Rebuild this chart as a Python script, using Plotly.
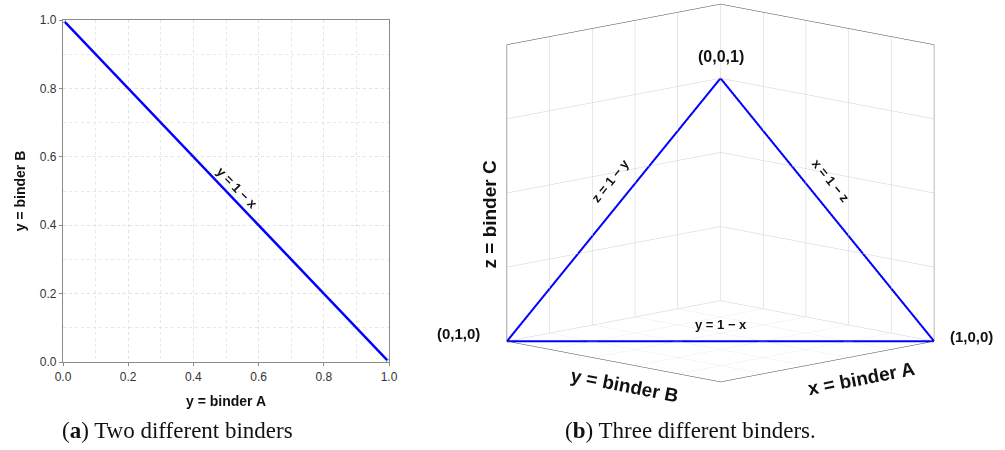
import plotly.graph_objects as go

# ---- data ----
# panel (a): two binders, y = 1 - x
binder_a_2d = [0.0, 1.0]
binder_b_2d = [1.0, 0.0]
ticks_2d = [0.0, 0.2, 0.4, 0.6, 0.8, 1.0]
tick_text_2d = ["0.0", "0.2", "0.4", "0.6", "0.8", "1.0"]

# panel (b): three binders, triangle x + y + z = 1
binder_a_3d = [1.0, 0.0, 0.0, 1.0]
binder_b_3d = [0.0, 0.0, 1.0, 0.0]
binder_c_3d = [0.0, 1.0, 0.0, 0.0]
ticks_xy_3d = [0.0, 0.2, 0.4, 0.6, 0.8, 1.0]
ticks_z_3d = [0.0, 1/3, 2/3, 1.0, 4/3]

BLUE = "#0000ff"
LAB = "Liberation Sans, Arial, sans-serif"
SERIF = "Liberation Serif, DejaVu Serif, serif"

fig = go.Figure()

# ---- panel (a) ----
fig.add_trace(go.Scatter(
    x=binder_a_2d, y=binder_b_2d, mode="lines+markers",
    line=dict(color=BLUE, width=2.5),
    marker=dict(size=5, color="white", line=dict(color="#7aa6e0", width=1)),
    hoverinfo="skip", showlegend=False, xaxis="x", yaxis="y"))

axis2d = dict(range=[0, 1], tickvals=ticks_2d, ticktext=tick_text_2d,
              showgrid=True, gridcolor="#e2e2e2", griddash="dot", gridwidth=1,
              minor=dict(dtick=0.1, tick0=0, showgrid=True, gridcolor="#e8e8e8", griddash="dot"),
              showline=True, linecolor="#8a8a8a", linewidth=1.2, mirror=True,
              ticks="outside", ticklen=3, tickcolor="#8a8a8a",
              tickfont=dict(family=LAB, size=12, color="#333"),
              zeroline=False, fixedrange=True, automargin=False)

fig.update_layout(
    xaxis=dict(domain=[63/1005, 389/1005], anchor="y", **axis2d,
               title=dict(text="<b>y = binder A</b>", font=dict(family=LAB, size=14, color="#111"), standoff=13)),
    yaxis=dict(domain=[1-362/450, 1-20/450], anchor="x", **axis2d,
               title=dict(text="<b>y = binder B</b>", font=dict(family=LAB, size=14, color="#111"), standoff=10)),
)

fig.add_annotation(x=0.511, y=0.489, xref="x", yref="y", text="<b>y = 1 − x</b>",
                   showarrow=False, textangle=46, xshift=7, yshift=7,
                   font=dict(family=LAB, size=13, color="#111"))

# ---- panel (b) ----
# plotly x-axis carries binder B (goes left), y-axis carries binder A (goes right)
fig.add_trace(go.Scatter3d(
    x=binder_b_3d, y=binder_a_3d, z=binder_c_3d, mode="lines",
    line=dict(color=BLUE, width=4), hoverinfo="skip", showlegend=False, scene="scene"))

ax3 = dict(showgrid=True, gridcolor="#d0d0d0", gridwidth=1,
           showline=True, linecolor="#444", linewidth=1, mirror=True,
           showbackground=False, zeroline=False, showticklabels=False,
           ticks="", title=dict(text=""), showspikes=False)

r = 2.0
eye = dict(x=r*0.694, y=r*0.694, z=r*0.19)
k = 1.565

def sa(x, y, z, text, size, angle=0, xs=0, ys=0):
    return dict(x=x, y=y, z=z, text=text, showarrow=False, textangle=angle,
                xshift=xs, yshift=ys, font=dict(family=LAB, size=size, color="#111"))

scene_ann = [
    sa(0, 0, 1, "<b>(0,0,1)</b>", 16, 0, 0, 22),
    sa(1, 0, 0, "<b>(0,1,0)</b>", 15, 0, -49, 7),
    sa(0, 1, 0, "<b>(1,0,0)</b>", 15, 0, 38, 4),
    sa(1 - 0.56, 0, 0.56, "<b>z = 1 − y</b>", 13, -51, -16, 13),
    sa(0, 1 - 0.56, 0.56, "<b>x = 1 − z</b>", 13, 51, 16, 13),
    sa(0.5, 0.5, 0, "<b>y = 1 − x</b>", 13, 0, 0, 16),
    sa(1, 0, 0.57, "<b>z = binder C</b>", 19, -90, -18, 0),
    sa(1, 0.56, 0, "<b>y = binder B</b>", 19, 11, -2, -22),
    sa(0.34, 1, 0, "<b>x = binder A</b>", 19, -11, 0, -24),
]

fig.update_layout(scene=dict(
    domain=dict(x=[0.467, 0.967], y=[0.143, 1.0]),
    xaxis=dict(range=[0, 1], tickvals=ticks_xy_3d, **ax3),
    yaxis=dict(range=[0, 1], tickvals=ticks_xy_3d, **ax3),
    zaxis=dict(range=[0, 4/3], tickvals=ticks_z_3d, **ax3),
    aspectmode="manual", aspectratio=dict(x=k, y=k, z=k),
    camera=dict(eye=eye, up=dict(x=0, y=0, z=1), center=dict(x=0, y=0, z=0),
                projection=dict(type="orthographic")),
    bgcolor="white",
    annotations=scene_ann,
))

# ---- captions ----
fig.add_annotation(x=177/1005, y=1-430/450, xref="paper", yref="paper",
                   xanchor="center", yanchor="middle",
                   text="(<b>a</b>) Two different binders", showarrow=False,
                   font=dict(family=SERIF, size=23, color="#111"))
fig.add_annotation(x=690/1005, y=1-430/450, xref="paper", yref="paper",
                   xanchor="center", yanchor="middle",
                   text="(<b>b</b>) Three different binders.", showarrow=False,
                   font=dict(family=SERIF, size=23, color="#111"))

fig.update_layout(width=1005, height=450, margin=dict(l=0, r=0, t=0, b=0),
                  paper_bgcolor="white", plot_bgcolor="white", showlegend=False)

fig.write_html("out.html", config={"displayModeBar": False},
               post_script="document.body.style.margin='0';")
